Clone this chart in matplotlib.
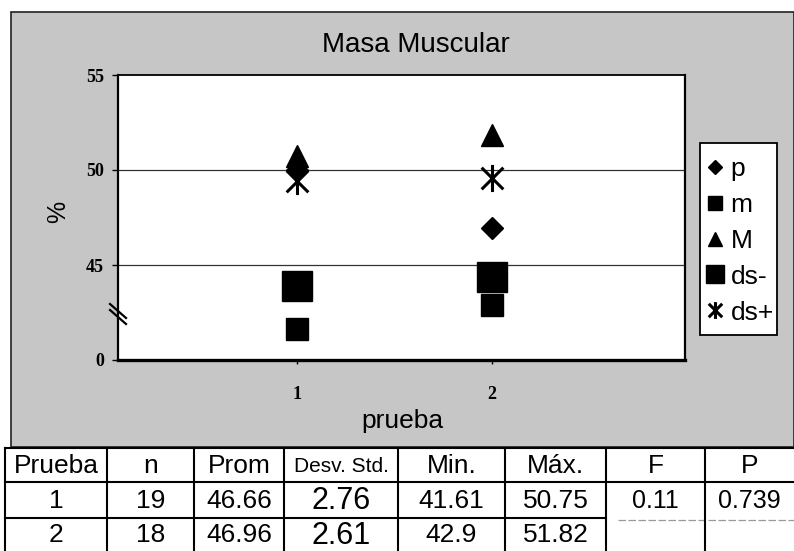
import matplotlib
matplotlib.use('Agg')
import matplotlib.pyplot as plt
from matplotlib.lines import Line2D
from matplotlib.patches import Rectangle
from matplotlib.path import Path
from matplotlib import font_manager

# ---------------- data ----------------
pruebas = [1, 2]
p_vals = [50.0, 46.96]
m_vals = [41.61, 42.9]
M_vals = [50.75, 51.82]
dsm_vals = [43.9, 44.35]
dsp_vals = [49.42, 49.57]
y_ticks = [40, 45, 50, 55]
y_ticklabels = ['0', '45', '50', '55']
x_ticklabels = ['1', '2']

table_header = ["Prueba", "n", "Prom", "Desv. Std.", "Min.", "Máx.", "F", "P"]
col_prueba = ["1", "2"]
col_n = ["19", "18"]
col_prom = ["46.66", "46.96"]
col_desv = ["2.76", "2.61"]
col_min = ["41.61", "42.9"]
col_max = ["50.75", "51.82"]
F_val = "0.11"
P_val = "0.739"

# ---------------- fonts ----------------
names = {f.name for f in font_manager.fontManager.ttflist}
SANS = 'Liberation Sans' if 'Liberation Sans' in names else 'DejaVu Sans'
SERIF = 'Liberation Serif' if 'Liberation Serif' in names else 'DejaVu Serif'
NARROW = 'Liberation Sans Narrow' if 'Liberation Sans Narrow' in names else None

W, H = 794, 551
fig = plt.figure(figsize=(W / 100, H / 100), dpi=100)
fig.patch.set_facecolor('white')


def fx(x):
    return x / W


def fy(y):
    return 1 - y / H


# chart background panel
fig.add_artist(Rectangle((fx(11), fy(447)), fx(794) - fx(11), fy(12) - fy(447),
                         transform=fig.transFigure, facecolor='#c6c6c6',
                         edgecolor='#222222', lw=1.2, zorder=0))

ax = fig.add_axes([fx(118), fy(360), (685 - 118) / W, (360 - 75) / H])
ax.set_facecolor('white')
ax.set_xlim(0.082, 2.99)
ax.set_ylim(40, 55)

for yv in (45, 50):
    ax.axhline(yv, color='#333333', lw=0.9, zorder=1)

ast = Path([(0, -1), (0, 1), (-0.8, -0.8), (0.8, 0.8), (-0.8, 0.8), (0.8, -0.8)],
           [Path.MOVETO, Path.LINETO] * 3)

ax.plot(pruebas, p_vals, ls='none', marker='D', ms=11.2, color='black', label='p', zorder=3)
ax.plot(pruebas, m_vals, ls='none', marker='s', ms=15.8, color='black', label='m', zorder=3)
ax.plot(pruebas, M_vals, ls='none', marker='^', ms=16.5, color='black', label='M', zorder=3)
ax.plot(pruebas, dsm_vals, ls='none', marker='s', ms=21.5, color='black', label='ds-', zorder=3)
ax.plot(pruebas, dsp_vals, ls='none', marker=ast, ms=19.5, mew=2.2, color='black',
        label='ds+', zorder=4)

ax.set_yticks(y_ticks)
ax.set_yticklabels(y_ticklabels, fontfamily=SERIF, fontweight='bold', fontsize=13)
ax.set_xticks(pruebas)
ax.set_xticklabels(x_ticklabels, fontfamily=SERIF, fontweight='bold', fontsize=13)
ax.tick_params(axis='y', length=4, width=1, pad=6, direction='out')
ax.tick_params(axis='x', length=3, width=1, pad=16, direction='out')
for side, lw in (('left', 1.6), ('bottom', 2.4), ('top', 1.3), ('right', 1.6)):
    ax.spines[side].set_linewidth(lw)
    ax.spines[side].set_color('black')

# axis break mark
for dy in (0, 6):
    fig.add_artist(Line2D([fx(110), fx(126)], [fy(304 + dy), fy(318 + dy)],
                          transform=fig.transFigure, color='black', lw=1.6, zorder=5))

fig.text(fx(416), fy(45), 'Masa Muscular', fontsize=20, fontfamily=SANS, ha='center', va='center')
fig.text(fx(402), fy(421), 'prueba', fontsize=19, fontfamily=SANS, ha='center', va='center')
fig.text(fx(58), fy(212), '%', fontsize=18, fontfamily=SANS, rotation=90, ha='center', va='center')

# legend box drawn separately, legend entries without frame
fig.add_artist(Rectangle((fx(700), fy(335)), fx(777) - fx(700), fy(143) - fy(335),
                         transform=fig.transFigure, facecolor='white',
                         edgecolor='black', lw=1.3, zorder=2))
leg = fig.legend(loc='upper left', bbox_to_anchor=(fx(704), fy(157)), markerscale=0.62,
                 prop={'family': SANS, 'size': 19}, frameon=False, borderpad=0,
                 handlelength=0.8, handletextpad=0.2, labelspacing=0.45, borderaxespad=0)
leg.set_zorder(3)

# ---------------- table ----------------
cols = [5, 107, 194, 284, 398, 505, 606, 705, 794]
rows = [448, 482, 518, 551]

def hline(y, x0, x1, color='black', lw=1.5, ls='-'):
    fig.add_artist(Line2D([fx(x0), fx(x1)], [fy(y), fy(y)], transform=fig.transFigure,
                          color=color, lw=lw, ls=ls))

def vline(x, y0, y1):
    fig.add_artist(Line2D([fx(x), fx(x)], [fy(y0), fy(y1)], transform=fig.transFigure,
                          color='black', lw=1.5))

hline(rows[0], cols[0], cols[-1])
hline(rows[1], cols[0], cols[-1])
hline(rows[2], cols[0], cols[6])
hline(rows[2] + 2, cols[6] + 12, cols[-1], color='#999999', lw=0.9, ls=(0, (6, 2)))
for x in cols[:-1]:
    vline(x, rows[0], rows[-1])

def cell(ci, ri, text, size=18, family=SANS):
    xc = (cols[ci] + cols[ci + 1]) / 2
    yc = (rows[ri] + rows[ri + 1]) / 2 + 1
    fig.text(fx(xc), fy(yc), text, fontsize=size, fontfamily=family, ha='center', va='center')

VAL = NARROW if NARROW else SANS
VS = 20 if NARROW else 19
for ci, h in enumerate(table_header):
    cell(ci, 0, h, size=15 if h.startswith('Desv') else 19)
for ri in range(2):
    cell(0, ri + 1, col_prueba[ri], VS, VAL)
    cell(1, ri + 1, col_n[ri], VS, VAL)
    cell(2, ri + 1, col_prom[ri], VS, VAL)
    cell(3, ri + 1, col_desv[ri], 22, SANS)
    cell(4, ri + 1, col_min[ri], VS, VAL)
    cell(5, ri + 1, col_max[ri], VS, VAL)
cell(6, 1, F_val, 18)
cell(7, 1, P_val, 18)

fig.savefig('out.png', dpi=100)
